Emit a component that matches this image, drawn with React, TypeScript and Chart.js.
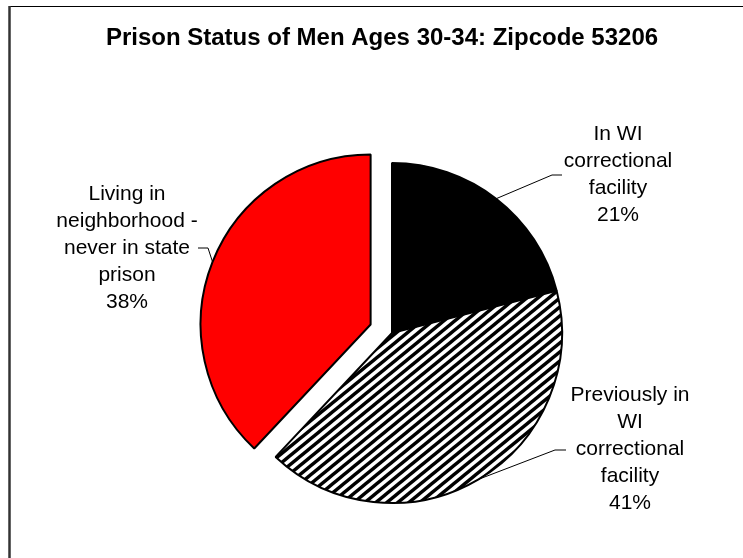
import React, { useEffect, useRef } from "react";
import { Chart, registerables } from "chart.js";

Chart.register(...registerables);

const TITLE = "Prison Status of Men Ages 30-34: Zipcode 53206";
const categories: string[][] = [
  ["In WI", "correctional", "facility"],
  ["Previously in", "WI", "correctional", "facility"],
  ["Living in", "neighborhood -", "never in state", "prison"],
];
const values: number[] = [21, 41, 38];
const explode: number[] = [0, 0, 23];

// label layout (text block centre x, first line y, elbow, end of leader)
const labelLayout = [
  { x: 618, y: 134.5, elbow: [552, 175], end: [562, 175] },
  { x: 630, y: 395, elbow: [555, 450], end: [566, 450] },
  { x: 127, y: 194, elbow: [208, 248], end: [198, 248] },
];

function makeHatch(): CanvasPattern | string {
  const w = 11, h = 9;
  const c = document.createElement("canvas");
  c.width = w;
  c.height = h;
  const g = c.getContext("2d");
  if (!g) return "#888";
  g.fillStyle = "#fff";
  g.fillRect(0, 0, w, h);
  g.strokeStyle = "#000";
  g.lineWidth = 3.4;
  for (let k = 0; k <= 2; k++) {
    g.beginPath();
    g.moveTo(-w, k * h + h);
    g.lineTo(k * w + w, -h);
    g.stroke();
  }
  const p = g.createPattern(c, "repeat");
  return p || "#888";
}

export default function App() {
  const ref = useRef<HTMLCanvasElement | null>(null);

  useEffect(() => {
    if (!ref.current) return;
    const hatch = makeHatch();

    const explodePlugin = {
      id: "explodeSlices",
      afterDatasetUpdate(chart: any, args: any) {
        const meta = chart.getDatasetMeta(args.index);
        meta.data.forEach((arc: any, i: number) => {
          const d = explode[i] || 0;
          if (!d) return;
          const mid = (arc.startAngle + arc.endAngle) / 2;
          arc.x += Math.cos(mid) * d;
          arc.y += Math.sin(mid) * d;
        });
      },
    };

    const decorPlugin = {
      id: "decor",
      beforeDraw(chart: any) {
        const ctx = chart.ctx;
        ctx.save();
        ctx.fillStyle = "#fff";
        ctx.fillRect(0, 0, chart.width, chart.height);
        ctx.strokeStyle = "#000";
        ctx.lineWidth = 1;
        ctx.beginPath();
        ctx.moveTo(9, 6.5);
        ctx.lineTo(chart.width, 6.5);
        ctx.stroke();
        ctx.strokeStyle = "#333";
        ctx.lineWidth = 2.5;
        ctx.beginPath();
        ctx.moveTo(9.5, 6);
        ctx.lineTo(9.5, chart.height);
        ctx.stroke();
        ctx.restore();
      },
      afterDraw(chart: any) {
        const ctx = chart.ctx;
        ctx.save();
        ctx.fillStyle = "#000";
        ctx.textAlign = "center";
        ctx.textBaseline = "middle";
        ctx.font = "bold 24px 'Liberation Sans', Arial, sans-serif";
        ctx.fillText(TITLE, 382, 38);

        const meta = chart.getDatasetMeta(0);
        const total = values.reduce((a, b) => a + b, 0);
        ctx.font = "21px 'Liberation Sans', Arial, sans-serif";
        meta.data.forEach((arc: any, i: number) => {
          const L = labelLayout[i];
          const mid = (arc.startAngle + arc.endAngle) / 2;
          const ax = arc.x + Math.cos(mid) * arc.outerRadius;
          const ay = arc.y + Math.sin(mid) * arc.outerRadius;
          ctx.strokeStyle = "#000";
          ctx.lineWidth = 1;
          ctx.beginPath();
          ctx.moveTo(ax, ay);
          ctx.lineTo(L.elbow[0], L.elbow[1]);
          ctx.lineTo(L.end[0], L.end[1]);
          ctx.stroke();
          const lines = [...categories[i], Math.round((values[i] / total) * 100) + "%"];
          lines.forEach((t, j) => {
            ctx.fillText(t, L.x, L.y + j * 27);
          });
        });
        ctx.restore();
      },
    };

    const chart = new Chart(ref.current, {
      type: "pie",
      data: {
        labels: categories.map((c) => c.join(" ")),
        datasets: [
          {
            data: values,
            backgroundColor: ["#000000", hatch as any, "#FF0000"],
            borderColor: "#000000",
            borderWidth: 2,
          },
        ],
      },
      options: {
        responsive: false,
        animation: false,
        radius: 170,
        layout: { padding: { left: 41, right: 0, top: 108, bottom: 0 } },
        plugins: {
          legend: { display: false },
          title: { display: false },
          tooltip: { enabled: false },
        },
      } as any,
      plugins: [explodePlugin, decorPlugin],
    });
    return () => chart.destroy();
  }, []);

  return (
    <div style={{ position: "fixed", left: 0, top: 0, width: 743, height: 558, background: "#fff" }}>
      <canvas ref={ref} width={743} height={558} style={{ display: "block" }} />
    </div>
  );
}
